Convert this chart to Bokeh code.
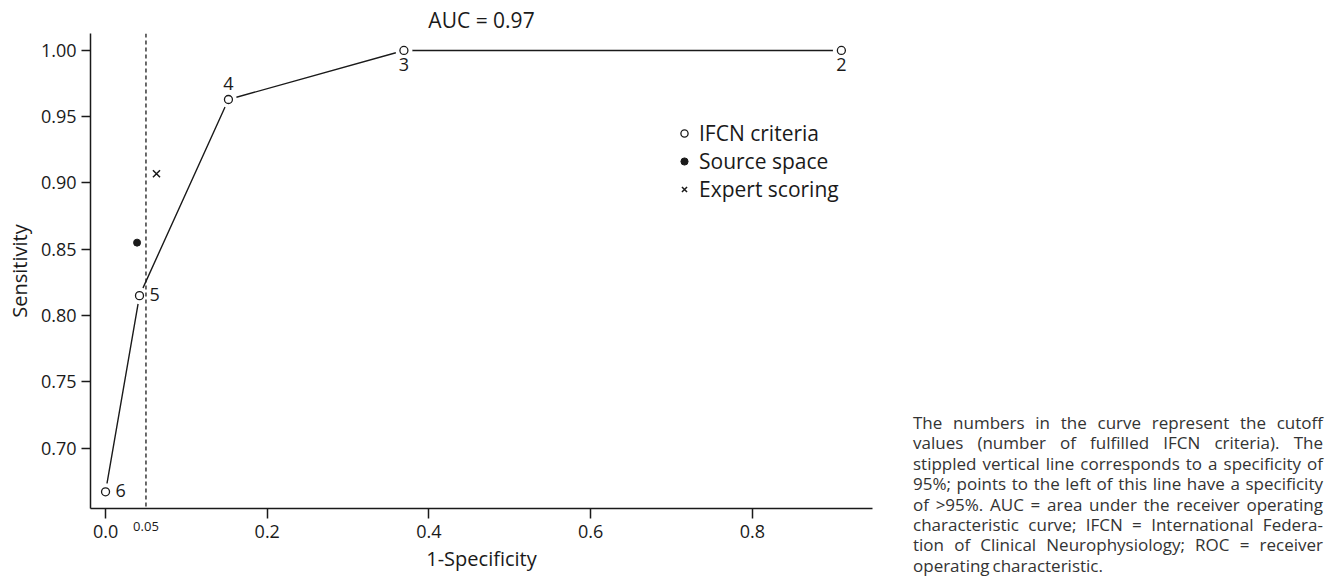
import html
from bokeh.plotting import figure
from bokeh.models import (Range1d, Legend, LegendItem, Div, FixedTicker, Label,
                          ColumnDataSource, Span, NumeralTickFormatter)
from bokeh.layouts import row
from bokeh.embed import file_html
from bokeh.resources import INLINE
from bokeh.core.properties import value

# ---------------- data ----------------
cutoffs = ["2", "3", "4", "5", "6"]
one_minus_specificity = [0.91, 0.369, 0.152, 0.042, 0.0]
sensitivity = [1.0, 1.0, 0.963, 0.815, 0.667]

source_space_x = [0.039]
source_space_y = [0.855]

expert_x = [0.063]
expert_y = [0.907]

specificity_95_line = 0.05
auc_text = "AUC = 0.97"

x_ticks = [0.0, 0.2, 0.4, 0.6, 0.8]
y_ticks = [0.70, 0.75, 0.80, 0.85, 0.90, 0.95, 1.00]

legend_labels = ["IFCN criteria", "Source space", "Expert scoring"]

caption_lines = [
    "The numbers in the curve represent the cutoff",
    "values (number of fulfilled IFCN criteria). The",
    "stippled vertical line corresponds to a specificity of",
    "95%; points to the left of this line have a specificity",
    "of >95%. AUC = area under the receiver operating",
    "characteristic curve; IFCN = International Federa-",
    "tion of Clinical Neurophysiology; ROC = receiver",
    "operating characteristic.",
]

# ---------------- style ----------------
INK = "#1a1a1a"
FONT = "Open Sans"
label_dx = [0, 0, 0, 10, 10]
label_dy = [14, 14, -16, -1, -1]
label_align = ["center", "center", "center", "left", "left"]

x_lo, x_hi = -0.0186, 0.9485
y_lo, y_hi = 0.6544, 1.0128

p = figure(width=905, height=582,
           x_range=Range1d(x_lo, x_hi), y_range=Range1d(y_lo, y_hi),
           output_backend="svg", toolbar_location=None,
           min_border_left=90, min_border_right=33,
           min_border_top=33, min_border_bottom=74)
p.outline_line_color = None
p.grid.visible = False
p.background_fill_color = "white"

# title (AUC)
p.title.text = auc_text
p.title.align = "center"
p.title.text_font = FONT
p.title.text_font_size = "21px"
p.title.text_font_style = "normal"
p.title.text_color = INK
p.title.standoff = 0

# curve
curve = p.line(one_minus_specificity, sensitivity, line_color=INK, line_width=1.4)
halo = p.scatter(one_minus_specificity, sensitivity, size=17, marker="circle",
                 fill_color="white", line_color=None)

span = Span(location=specificity_95_line, dimension="height", line_color=INK,
            line_width=1.3, line_dash="4 3")
p.add_layout(span)

ifcn = p.scatter(one_minus_specificity, sensitivity, size=8, marker="circle",
                 fill_color="white", line_color=INK, line_width=1.3)
src = p.scatter(source_space_x, source_space_y, size=7, marker="circle",
                fill_color=INK, line_color=INK)
exp = p.scatter(expert_x, expert_y, size=10, marker="x",
                line_color=INK, line_width=1.5)

lab_src = ColumnDataSource(dict(x=one_minus_specificity, y=sensitivity, t=cutoffs,
                                dx=label_dx, dy=label_dy, al=label_align))
p.text(x="x", y="y", text="t", x_offset="dx", y_offset="dy", text_align="al",
       text_baseline="alphabetic", text_font=value(FONT), text_font_size="18px",
       text_color=INK, source=lab_src)

# axes
for ax in (p.xaxis[0], p.yaxis[0]):
    ax.axis_line_color = INK
    ax.axis_line_width = 1.5
    ax.major_tick_line_color = INK
    ax.major_tick_line_width = 1.5
    ax.major_tick_in = 0
    ax.minor_tick_out = 0
    ax.minor_tick_in = 0
    ax.major_label_text_font = FONT
    ax.major_label_text_font_size = "18px"
    ax.major_label_text_color = INK
    ax.axis_label_text_font = FONT
    ax.axis_label_text_font_size = "20px"
    ax.axis_label_text_font_style = "normal"
    ax.axis_label_text_color = INK

p.xaxis.ticker = FixedTicker(ticks=x_ticks)
p.xaxis.formatter = NumeralTickFormatter(format="0.0")
p.xaxis.axis_label = "1-Specificity"
p.xaxis.major_tick_out = 10
p.xaxis.major_label_standoff = 6
p.xaxis.axis_label_standoff = 4

p.yaxis.ticker = FixedTicker(ticks=y_ticks)
p.yaxis.formatter = NumeralTickFormatter(format="0.00")
p.yaxis.axis_label = "Sensitivity"
p.yaxis.major_tick_out = 9
p.yaxis.major_label_standoff = 5
p.yaxis.axis_label_standoff = 5

# small "0.05" note under the axis, at the stippled line (side panel: not clipped)
cut_label = Label(x=specificity_95_line, y=y_lo - 17.5 / 1324.0, text="0.05",
                  text_align="center", text_baseline="alphabetic",
                  text_font=FONT, text_font_size="13px", text_color=INK)
p.add_layout(cut_label, "right")

legend = Legend(items=[LegendItem(label=legend_labels[0], renderers=[ifcn]),
                       LegendItem(label=legend_labels[1], renderers=[src]),
                       LegendItem(label=legend_labels[2], renderers=[exp])],
                location=(585, 305), glyph_width=18, glyph_height=24,
                label_height=24, label_standoff=6, spacing=0, padding=0,
                margin=0, border_line_color=None, background_fill_alpha=0,
                label_text_font=FONT, label_text_font_size="21px",
                label_text_color=INK)
p.add_layout(legend)

# caption
parts = []
for i, line in enumerate(caption_lines):
    last = i == len(caption_lines) - 1
    al = "left" if last else "justify"
    parts.append(
        '<div style="text-align:%s;text-align-last:%s;height:20.4px;line-height:20.4px;'
        'white-space:nowrap;">%s</div>' % (al, al, html.escape(line)))
cap_html = ('<div style="font-family:\'Open Sans\';font-size:17px;color:#333333;'
            'width:410px;word-spacing:-1.5px;">' + "".join(parts) + "</div>")
caption = Div(text=cap_html, width=412, height=169, margin=(413, 0, 0, 8))

layout = row(p, caption)
open("out.html", "w").write(file_html(layout, INLINE))
